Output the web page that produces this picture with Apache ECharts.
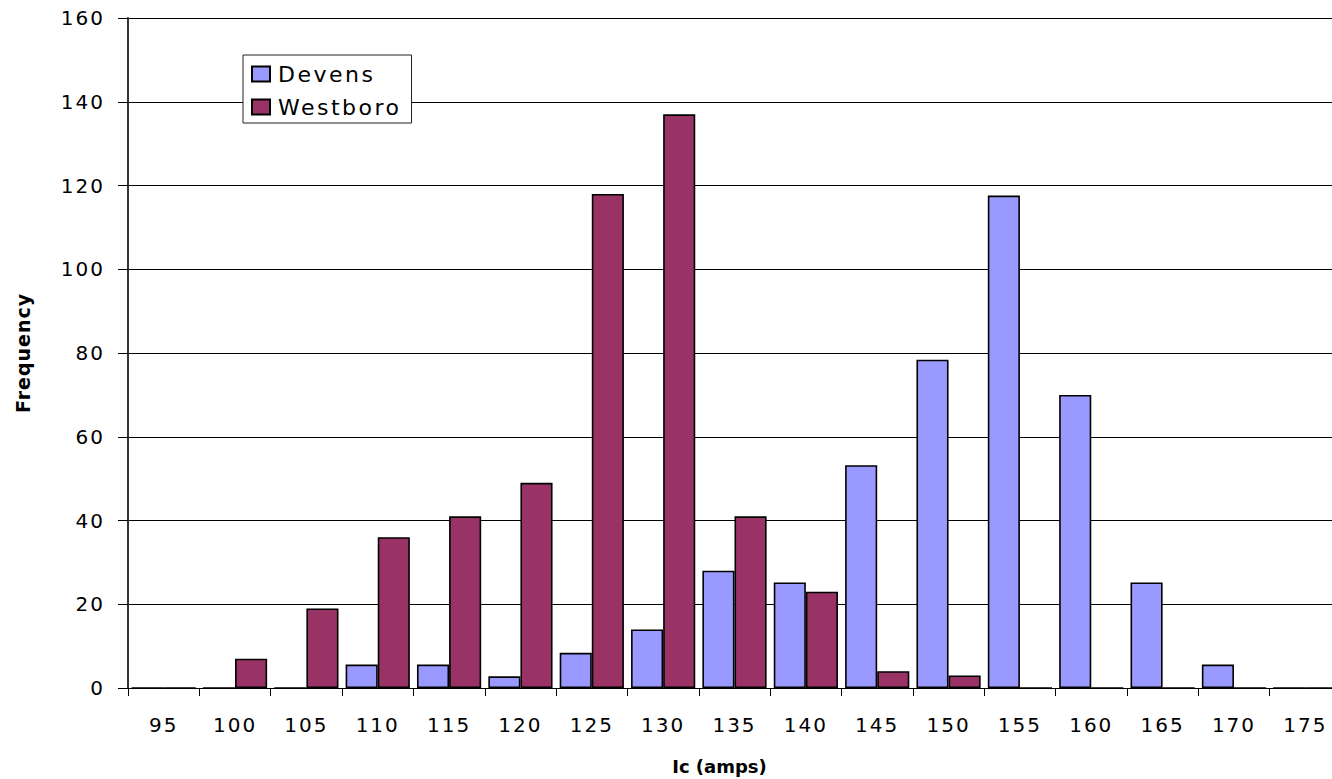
<!DOCTYPE html>
<html>
<head>
<meta charset="utf-8">
<title>Ic distribution</title>
<script src="https://cdn.jsdelivr.net/npm/echarts@6/dist/echarts.min.js"></script>
<style>
  html, body { margin: 0; padding: 0; background: #fff; overflow: hidden; }
  #chart { width: 1332px; height: 779px; }
  /* wide, airy lettering for tick labels, legend and the y title */
  #chart svg text[style*="20px"]:not([style*="bold"]) { letter-spacing: 2px; }
  #chart svg text[style*="22px"] { letter-spacing: 2.5px; }
  #chart svg text[style*="19px"][style*="bold"] { letter-spacing: 1px; }
</style>
</head>
<body>
<div id="chart"></div>
<script>
// Critical current bins (amps)
const categories = ['95', '100', '105', '110', '115', '120', '125', '130', '135',
                    '140', '145', '150', '155', '160', '165', '170', '175'];
// Frequency per bin for each site
const devens   = [0, 0, 0, 5.6, 5.6, 2.8, 8.4, 14, 28, 25.2, 53.2, 78.4, 117.6, 70, 25.2, 5.6, 0];
const westboro = [0, 7, 19, 36, 41, 49, 118, 137, 41, 23, 4, 3, 0, 0, 0, 0, 0];
// Frequency axis
const yMin = 0, yMax = 160, yStep = 20;

const FONT = 'DejaVu Sans';

const chart = echarts.init(document.getElementById('chart'), null, { renderer: 'svg' });

chart.setOption({
  animation: false,
  backgroundColor: '#ffffff',
  grid: { left: 128, top: 18, width: 1213, height: 670, outerBoundsMode: 'none' },
  legend: {
    orient: 'vertical',
    left: 243,
    top: 55,
    // extra right padding leaves room for the spaced-out lettering
    padding: [8, 30, 5, 8],
    itemGap: 11,
    itemWidth: 18,
    itemHeight: 15,
    backgroundColor: '#ffffff',
    borderColor: '#222222',
    borderWidth: 1,
    icon: 'rect',
    textStyle: { fontFamily: FONT, fontSize: 22, color: '#000', padding: [0, 0, 0, 3] },
    data: ['Devens', 'Westboro']
  },
  xAxis: {
    type: 'category',
    data: categories,
    name: 'Ic (amps)',
    nameLocation: 'middle',
    nameGap: 69,
    nameTextStyle: { fontFamily: FONT, fontSize: 18, fontWeight: 'bold', color: '#000', padding: [0, 30, 0, 0] },
    axisLine: { lineStyle: { color: '#000', width: 1 } },
    axisTick: { show: true, length: 8, lineStyle: { color: '#000' } },
    axisLabel: { fontFamily: FONT, fontSize: 20, color: '#000', margin: 27, interval: 0 }
  },
  yAxis: {
    type: 'value',
    min: yMin,
    max: yMax,
    interval: yStep,
    name: 'Frequency',
    nameLocation: 'middle',
    nameGap: 96,
    nameRotate: 90,
    nameTextStyle: { fontFamily: FONT, fontSize: 19, fontWeight: 'bold', color: '#000' },
    axisLine: { show: true, lineStyle: { color: '#333', width: 2 } },
    axisTick: { show: true, length: 10, lineStyle: { color: '#000' } },
    axisLabel: { fontFamily: FONT, fontSize: 20, color: '#000', margin: 23 },
    splitLine: { show: true, lineStyle: { color: '#000', width: 1 } }
  },
  series: [
    {
      name: 'Devens',
      type: 'bar',
      data: devens,
      barGap: '0%',
      barCategoryGap: '10%',
      itemStyle: { color: '#9999ff', borderColor: '#000', borderWidth: 1.6 }
    },
    {
      name: 'Westboro',
      type: 'bar',
      data: westboro,
      barGap: '0%',
      barCategoryGap: '10%',
      itemStyle: { color: '#993366', borderColor: '#000', borderWidth: 1.6 }
    }
  ]
});
</script>
</body>
</html>
